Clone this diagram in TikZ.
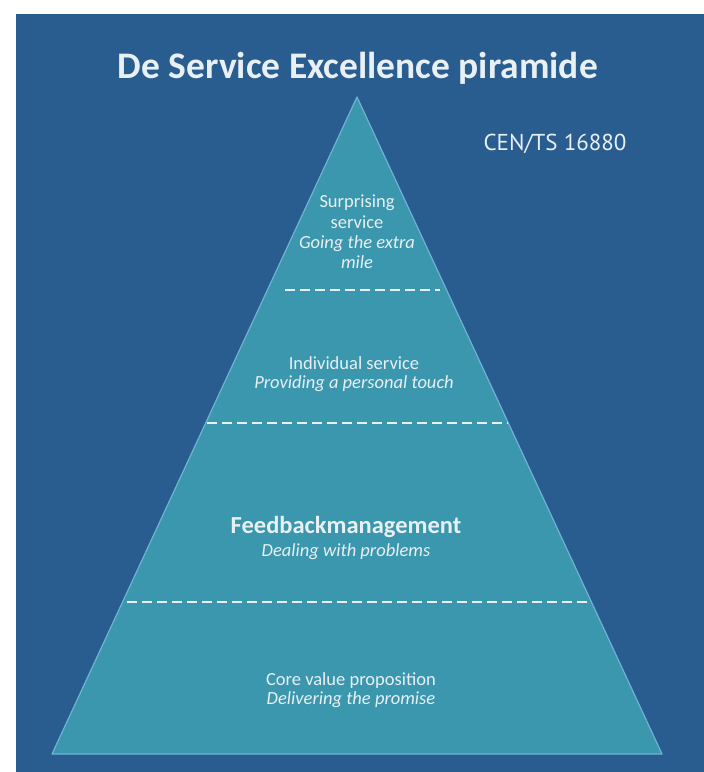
\documentclass[tikz,border=0pt]{standalone}
\usepackage{fontspec}
\setmainfont{Carlito}
\newfontfamily\codefont{PT Sans}
\usepackage{xcolor}
\usepackage{tikz}
\usetikzlibrary{positioning, calc}

\definecolor{bgblue}{RGB}{41,93,144}
\definecolor{layerteal}{RGB}{59,151,173}
\definecolor{rimblue}{RGB}{112,178,214}
\definecolor{textwhite}{RGB}{232,240,244}

\tikzset{
  levelname/.style={text=textwhite, align=center, inner sep=0pt, font=\fontsize{18.5}{20.3}\selectfont},
  divider/.style={draw=textwhite, line width=2.8pt, dash pattern=on 10pt off 5pt},
}

\begin{document}
\begin{tikzpicture}[x=1pt, y=-1pt]
          \useasboundingbox (0,0) rectangle (704,772);
          \fill[bgblue] (16,14) rectangle (704,772);

          % Title
          \node[text=textwhite, font=\fontsize{37.5}{42}\selectfont\bfseries] (title) at (358,68) {De Service Excellence piramide};
          \node[text=textwhite, font=\codefont\fontsize{23}{27}\selectfont] (norm) at (555,144) {CEN/TS 16880};

          % Pyramid
          \coordinate (top) at (357,97);
          \coordinate (baseL) at (52,754);
          \coordinate (baseR) at (662,754);
          \filldraw[fill=layerteal, draw=rimblue, line width=1.2pt, line join=round] (top) -- (baseL) -- (baseR) -- cycle;

          % Dividers between the levels
          \foreach \y/\xa/\xb in {290/285/440, 423/207/508, 602/127/590} {
            \coordinate (dl\y) at (\xa,\y);
            \coordinate (dr\y) at (\xb,\y);
            \draw[divider] (dl\y) -- (dr\y);
          }

          % Levels
          \node[levelname] (surprise) at (357,232) {Surprising\\service\\\textit{Going the extra}\\\textit{mile}};
          \node[levelname, font=\fontsize{18.5}{18.5}\selectfont] (personal) at (354,374) {Individual service\\\textit{Providing a personal touch}};
          \node[levelname, font=\fontsize{18.5}{23}\selectfont] (feedback) at (346,538) {{\fontsize{24.5}{23}\selectfont\bfseries Feedbackmanagement}\\\textit{Dealing with problems}};
          \node[levelname, font=\fontsize{18.5}{19}\selectfont] (core) at (351,690) {Core value proposition\\\textit{Delivering the promise}};
        \end{tikzpicture}
\end{document}
